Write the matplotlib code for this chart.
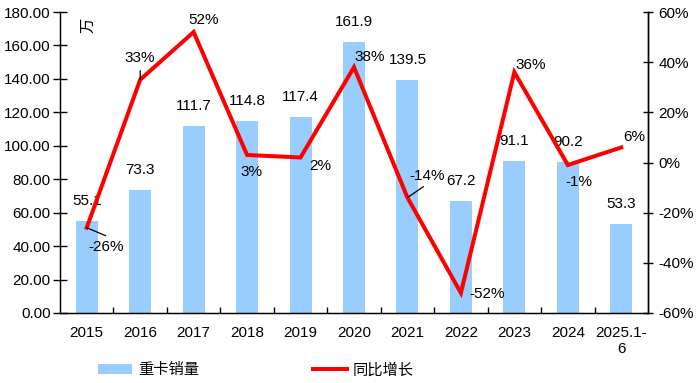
import matplotlib.pyplot as plt
from matplotlib.patches import Patch
from matplotlib.lines import Line2D
import numpy as np

plt.rcParams['font.family'] = ['Liberation Sans', 'Noto Sans CJK SC']
plt.rcParams['font.size'] = 11

years = ['2015', '2016', '2017', '2018', '2019', '2020', '2021', '2022', '2023', '2024', '2025.1-\n6']
sales = [55.1, 73.3, 111.7, 114.8, 117.4, 161.9, 139.5, 67.2, 91.1, 90.2, 53.3]
growth = [-26, 33, 52, 3, 2, 38, -14, -52, 36, -1, 6]

# label offsets for growth labels, in pixels (dx, dy)
pct_offsets = [(19, -19), (0, 22), (10, 12), (4, -17), (20, -9), (16, 10),
               (20, 22), (26, -1), (16, 7), (11, -17), (13, 10)]
# leader line ends (pixels from the point) for labels moved away
leaders = {0: (19, -8), 1: (0, 9), 6: (16, 11)}

bar_color = '#99CCFF'
line_color = '#FF0000'
px = 0.72  # pixel -> points at 100 dpi

fig = plt.figure(figsize=(6.98, 3.83), dpi=100)
ax = fig.add_axes([60 / 698, 1 - 313 / 383, 588 / 698, 301 / 383])
x = np.arange(len(years))

ax.bar(x, sales, width=0.41, color=bar_color, zorder=2)
ax.set_xlim(-0.5, len(years) - 0.5)
ax.set_ylim(0, 180)
ax.set_yticks(np.arange(0, 181, 20))
ax.set_yticklabels(['%.2f' % v for v in np.arange(0, 181, 20)])
ax.set_xticks(x)
ax.set_xticklabels(years, linespacing=1.2)
ax.set_xticks(np.arange(0.5, len(years) - 1, 1), minor=True)
ax.tick_params(axis='x', which='major', length=0, pad=9.5)
ax.tick_params(axis='x', which='minor', direction='in', length=4.5, width=1)
ax.tick_params(axis='y', direction='inout', length=9.6, width=1, pad=2)
ax.spines['top'].set_visible(False)
for s in ['left', 'bottom', 'right']:
    ax.spines[s].set_linewidth(1)

for xi, v in zip(x, sales):
    ax.annotate('%.1f' % v, (xi, v), xytext=(0, 20 * px), textcoords='offset points',
                ha='center', va='center', fontsize=11)

ax.text(0.048, 0.957, '万', transform=ax.transAxes, rotation=90,
        ha='center', va='center', fontsize=11)

ax2 = ax.twinx()
ax2.plot(x, growth, color=line_color, lw=2.9, solid_joinstyle='miter', zorder=3)
ax2.set_ylim(-60, 60)
ax2.set_yticks(np.arange(-60, 61, 20))
ax2.set_yticklabels(['%d%%' % v for v in np.arange(-60, 61, 20)])
ax2.tick_params(axis='y', direction='inout', length=7.2, width=1, pad=4)
ax2.spines['top'].set_visible(False)
ax2.spines['right'].set_linewidth(1)

for i, (xi, g) in enumerate(zip(x, growth)):
    dx, dy = pct_offsets[i]
    ax2.annotate('%d%%' % g, (xi, g), xytext=(dx * px, dy * px),
                 textcoords='offset points', ha='center', va='center',
                 fontsize=11, zorder=4)
    if i in leaders:
        lx, ly = leaders[i]
        ax2.annotate('', (xi, g), xytext=(lx * px, ly * px), textcoords='offset points',
                     arrowprops=dict(arrowstyle='-', color='black', lw=0.9,
                                     shrinkA=0, shrinkB=0), zorder=4)

handles = [Patch(facecolor=bar_color, edgecolor='none'),
           Line2D([0], [0], color=line_color, lw=2.9)]
fig.legend(handles, ['重卡销量', '同比增长'], loc='center',
           bbox_to_anchor=(256 / 698, 1 - 370 / 383), ncol=2, frameon=False,
           handlelength=2.2, handleheight=0.65, handletextpad=0.4,
           columnspacing=7.5, fontsize=11)

fig.savefig('out.png', dpi=100)
